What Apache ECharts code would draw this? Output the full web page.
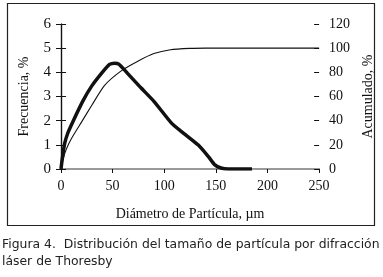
<!DOCTYPE html>
<html>
<head>
<meta charset="utf-8">
<script src="https://cdn.jsdelivr.net/npm/echarts@6/dist/echarts.min.js"></script>
<style>
  html, body { margin: 0; padding: 0; background: #fff; }
  #chart { width: 383px; height: 277px; }
</style>
</head>
<body>
<div id="chart"></div>
<script>
// diámetro (µm) y frecuencia (%)
var freqX = [0, 1, 3.5, 6.7, 11.5, 21, 30, 40, 47, 52, 56, 64, 77, 90, 107, 117, 133, 143, 149, 155, 162, 185];
var freqY = [0, 0.35, 1.05, 1.5, 1.96, 2.8, 3.45, 4.0, 4.33, 4.38, 4.34, 3.98, 3.38, 2.8, 1.9, 1.54, 0.99, 0.5, 0.17, 0.04, 0, 0];
// acumulado (%)
var cumX = [0, 2, 5, 10, 20, 30, 42, 58, 74, 90, 106, 125, 140, 200, 250];
var cumY = [0, 8, 16, 25, 39, 53, 69, 81, 89, 95.5, 98.7, 99.8, 100, 100, 100];
var leftTicks = [0, 6, 1];
var rightTicks = [0, 120, 20];
var xTicks = [0, 250, 50];

function pairs(xs, ys) {
  return xs.map(function(x, i) { return [x, ys[i]]; });
}

var serif = 'Liberation Serif';
var chart = echarts.init(document.getElementById('chart'), null, { renderer: 'canvas' });

chart.setOption({
  animation: false,
  backgroundColor: '#fff',
  grid: { left: 61, right: 61, top: 24, bottom: 108 },
  graphic: [
    { type: 'rect', shape: { x: 7.5, y: 3.5, width: 367, height: 222 },
      style: { fill: 'none', stroke: '#222', lineWidth: 1.2 } },
    { type: 'text', left: 2, top: 236,
      style: { text: 'Figura 4.  Distribución del tamaño de partícula por difracción\nláser de Thoresby',
        font: '12.4px "DejaVu Sans"', fill: '#222', lineHeight: 17 } }
  ],
  xAxis: [{
    type: 'value', min: xTicks[0], max: xTicks[1], interval: xTicks[2],
    name: 'Diámetro de Partícula, µm', nameLocation: 'middle', nameGap: 38,
    nameTextStyle: { fontFamily: serif, fontSize: 14, color: '#111' },
    axisLine: { lineStyle: { color: '#111', width: 1.2 } },
    axisTick: { inside: false, length: 4, lineStyle: { color: '#111' } },
    axisLabel: { fontFamily: serif, fontSize: 14, color: '#111', margin: 10 },
    splitLine: { show: false }
  }, {
    type: 'value', position: 'top', min: xTicks[0], max: xTicks[1],
    axisLine: { lineStyle: { color: '#999', width: 2 } },
    axisTick: { show: false }, axisLabel: { show: false }, splitLine: { show: false }
  }],
  yAxis: [{
    type: 'value', min: leftTicks[0], max: leftTicks[1], interval: leftTicks[2],
    name: 'Frecuencia, %', nameLocation: 'middle', nameGap: 30, nameRotate: 90,
    nameTextStyle: { fontFamily: serif, fontSize: 14, color: '#111' },
    axisLine: { show: true, lineStyle: { color: '#111', width: 1.2 } },
    axisTick: { show: true, length: 5, lineStyle: { color: '#111' } },
    axisLabel: { fontFamily: serif, fontSize: 15, color: '#111', margin: 10 },
    splitLine: { show: false }
  }, {
    type: 'value', position: 'right', min: rightTicks[0], max: rightTicks[1], interval: rightTicks[2],
    name: 'Acumulado, %', nameLocation: 'middle', nameGap: 40, nameRotate: 90,
    nameTextStyle: { fontFamily: serif, fontSize: 14, color: '#111' },
    axisLine: { show: true, lineStyle: { color: '#111', width: 1.2 } },
    axisTick: { show: true, length: 5, lineStyle: { color: '#111' } },
    axisLabel: { fontFamily: serif, fontSize: 14, color: '#111', margin: 10 },
    splitLine: { show: false }
  }, {
    type: 'value', position: 'right', min: rightTicks[0], max: rightTicks[1], interval: rightTicks[2],
    axisLine: { show: false },
    axisTick: { show: true, inside: true, length: 5, lineStyle: { color: '#111' } },
    axisLabel: { show: false }, splitLine: { show: false }
  }],
  series: [{
    type: 'line', data: pairs(cumX, cumY), yAxisIndex: 1, smooth: 0.2,
    showSymbol: false, lineStyle: { color: '#111', width: 1.1 }
  }, {
    type: 'line', data: pairs(freqX, freqY), yAxisIndex: 0, smooth: 0.2,
    showSymbol: false, lineStyle: { color: '#111', width: 3.5 }
  }]
});
</script>
</body>
</html>
